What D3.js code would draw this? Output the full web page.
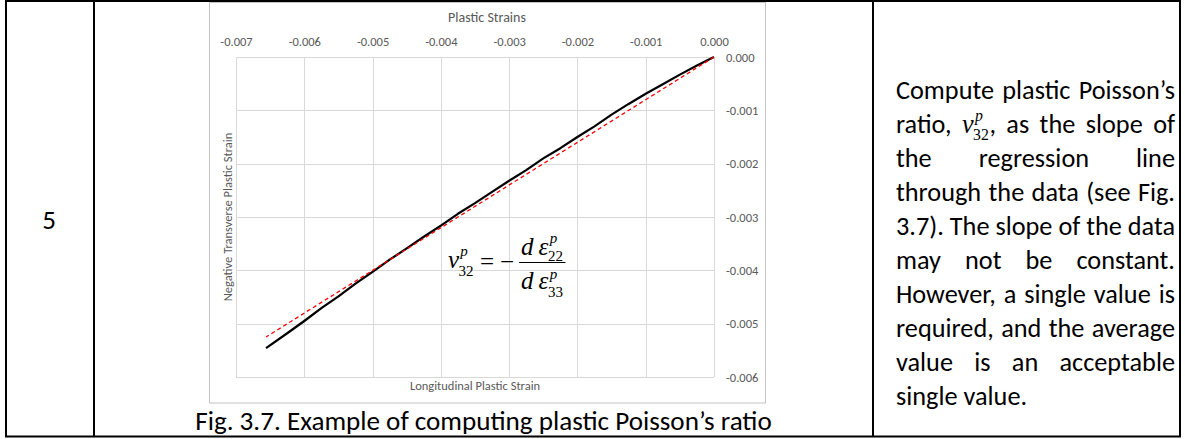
<!DOCTYPE html>
<html>
<head>
<meta charset="utf-8">
<script src="https://cdn.jsdelivr.net/npm/d3@7"></script>
<style>
body { margin: 0; background: #fff; }
svg { display: block; }
</style>
</head>
<body>
<div id="page"></div>
<script>
// data (strain values)
const longStrain = [0, -0.00025, -0.0005, -0.00075, -0.001, -0.00125, -0.0015, -0.00175, -0.002, -0.00225,
    -0.0025, -0.00275, -0.003, -0.00325, -0.0035, -0.00375, -0.004, -0.00425, -0.0045, -0.00475,
    -0.005, -0.00525, -0.0055, -0.00575, -0.006, -0.00625, -0.00656]
const transStrain = [0, -0.00016, -0.00033, -0.00051, -0.00069, -0.00088, -0.00108, -0.0013, -0.0015, -0.00171,
    -0.0019, -0.00212, -0.00232, -0.00253, -0.00274, -0.00294, -0.00316, -0.00337, -0.00359, -0.0038,
    -0.00403, -0.00425, -0.00449, -0.00471, -0.00495, -0.00518, -0.00546]
const regLong = [0, -0.00656]
const regTrans = [0, -0.00525]
const xTicks = [-0.007, -0.006, -0.005, -0.004, -0.003, -0.002, -0.001, 0]
const yTicks = [0, -0.001, -0.002, -0.003, -0.004, -0.005, -0.006]

const rowNumber = '5'
const captionText = 'Fig. 3.7. Example of computing plastic Poisson\u2019s ratio'
const bodyLines = [
    ['Compute', 'plastic', 'Poisson\u2019s'],
    ['ratio,', '{nu}', 'as', 'the', 'slope', 'of'],
    ['the', 'regression', 'line'],
    ['through', 'the', 'data', '(see', 'Fig.'],
    ['3.7).', 'The', 'slope', 'of', 'the', 'data'],
    ['may', 'not', 'be', 'constant.'],
    ['However,', 'a', 'single', 'value', 'is'],
    ['required,', 'and', 'the', 'average'],
    ['value', 'is', 'an', 'acceptable'],
    ['single', 'value.'],
]

const W = 1185, H = 439
const sans = 'Carlito, Calibri, Lato, sans-serif'
const serif = '"Liberation Serif", "Times New Roman", serif'

const svg = d3.select('#page').append('svg')
    .attr('width', W)
    .attr('height', H)

const textWidth = (str, size, family, style = 'normal') => {
    const t = svg.append('text')
        .attr('font-family', family)
        .attr('font-size', size)
        .attr('font-style', style)
        .text(str)
    const w = t.node().getComputedTextLength()
    t.remove()
    return w
}

// table frame
const table = svg.append('g').attr('stroke', '#000').attr('stroke-width', 2)
table.append('rect').attr('x', 6).attr('y', 1).attr('width', 1174).attr('height', 435.5).attr('fill', 'none')
table.append('line').attr('x1', 94).attr('x2', 94).attr('y1', 1).attr('y2', 436.5)
table.append('line').attr('x1', 873).attr('x2', 873).attr('y1', 1).attr('y2', 436.5)

// font size of body text fitted on the caption width
const capSize = 20 * 577 / textWidth(captionText, 20, sans)

svg.append('text')
    .attr('x', 49).attr('y', 229)
    .attr('text-anchor', 'middle')
    .attr('font-family', sans).attr('font-size', capSize)
    .attr('fill', '#000')
    .text(rowNumber)

svg.append('text')
    .attr('x', 483.5).attr('y', 430)
    .attr('text-anchor', 'middle')
    .attr('font-family', sans).attr('font-size', capSize)
    .attr('fill', '#000')
    .text(captionText)

// ---- chart ----
const chart = svg.append('g')
chart.append('rect')
    .attr('x', 209.5).attr('y', 2.5).attr('width', 556).attr('height', 400.5)
    .attr('fill', '#fff').attr('stroke', '#c4c4c4').attr('stroke-width', 1)

const xScale = d3.scaleLinear().domain([-0.007, 0]).range([236, 714])
const yScale = d3.scaleLinear().domain([-0.006, 0]).range([377, 57])
const fmt = (d) => (Math.abs(d) < 1e-12 ? 0 : d).toFixed(3)

chart.append('g')
    .selectAll('line')
    .data(xTicks)
    .join('line')
        .attr('x1', (d) => Math.round(xScale(d)) + 0.5)
        .attr('x2', (d) => Math.round(xScale(d)) + 0.5)
        .attr('y1', yScale(0))
        .attr('y2', yScale(-0.006))
        .attr('stroke', '#d9d9d9')
chart.append('g')
    .selectAll('line')
    .data(yTicks)
    .join('line')
        .attr('x1', xScale(-0.007))
        .attr('x2', xScale(0))
        .attr('y1', (d) => Math.round(yScale(d)) + 0.5)
        .attr('y2', (d) => Math.round(yScale(d)) + 0.5)
        .attr('stroke', '#d9d9d9')

const xAxis = chart.append('g')
    .attr('transform', `translate(0,${yScale(0)})`)
    .call(d3.axisTop(xScale).tickValues(xTicks).tickFormat(fmt).tickSize(0).tickPadding(11))
const yAxis = chart.append('g')
    .attr('transform', `translate(${xScale(0)},0)`)
    .call(d3.axisRight(yScale).tickValues(yTicks).tickFormat(fmt).tickSize(0).tickPadding(12))
;[xAxis, yAxis].forEach((a) => {
    a.select('.domain').remove()
    a.selectAll('text')
        .attr('font-family', sans)
        .attr('font-size', 12.5)
        .attr('fill', '#595959')
})

chart.append('text')
    .attr('x', 487).attr('y', 22)
    .attr('text-anchor', 'middle')
    .attr('font-family', sans).attr('font-size', 14)
    .attr('fill', '#595959')
    .text('Plastic Strains')
chart.append('text')
    .attr('x', 475).attr('y', 390)
    .attr('text-anchor', 'middle')
    .attr('font-family', sans).attr('font-size', 12.5)
    .attr('fill', '#595959')
    .text('Longitudinal Plastic Strain')
chart.append('text')
    .attr('transform', `translate(232,${(yScale(0) + yScale(-0.006)) / 2}) rotate(-90)`)
    .attr('text-anchor', 'middle')
    .attr('font-family', sans).attr('font-size', 12.5)
    .attr('fill', '#595959')
    .text('Negative Transverse Plastic Strain')

const dataLine = d3.line()
    .x((d) => xScale(d[0]))
    .y((d) => yScale(d[1]))

chart.append('path')
    .datum(d3.zip(longStrain, transStrain))
    .attr('d', dataLine)
    .attr('fill', 'none')
    .attr('stroke', '#000')
    .attr('stroke-width', 2.2)
    .attr('stroke-linejoin', 'round')

chart.append('path')
    .datum(d3.zip(regLong, regTrans))
    .attr('d', dataLine)
    .attr('fill', 'none')
    .attr('stroke', '#ff0000')
    .attr('stroke-width', 1.3)
    .attr('stroke-dasharray', '4,3')

// symbol with superscript and subscript, returns end x
const scripted = (g, x, y, base, sup, sub, size, supUp = 0.5, subDown = 0.3) => {
    g.append('text').attr('x', x).attr('y', y)
        .attr('font-family', serif).attr('font-style', 'italic').attr('font-size', size)
        .text(base)
    const bw = textWidth(base, size, serif, 'italic')
    const s = size * 0.6
    g.append('text').attr('x', x + bw + size * 0.05).attr('y', y - size * supUp)
        .attr('font-family', serif).attr('font-style', 'italic').attr('font-size', s)
        .text(sup)
    g.append('text').attr('x', x + bw - size * 0.02).attr('y', y + size * subDown)
        .attr('font-family', serif).attr('font-size', s)
        .text(sub)
    return x + bw + Math.max(textWidth(sup, s, serif, 'italic'), textWidth(sub, s, serif))
}

// formula on the chart
const eq = chart.append('g')
    .attr('transform', `translate(448,262)`)
    .attr('fill', '#000')
const fs = 25
let ex = scripted(eq, 0, 6, '\u03bd', 'p', '32', fs)
eq.append('text').attr('x', ex + 6).attr('y', 8)
    .attr('font-family', serif).attr('font-size', fs).text('=')
eq.append('text').attr('x', ex + 26).attr('y', 8)
    .attr('font-family', serif).attr('font-size', fs).text('\u2212')
const fx = ex + 45
const numEnd = scripted(eq, fx + 2, -7, 'd\u2009\u03b5', 'p', '22', fs, 0.5, 0.22)
scripted(eq, fx + 2, 27, 'd\u2009\u03b5', 'p', '33', fs, 0.42, 0.3)
eq.append('line')
    .attr('x1', fx).attr('x2', numEnd + 2)
    .attr('y1', 0.5).attr('y2', 0.5)
    .attr('stroke', '#000').attr('stroke-width', 1)

// ---- justified text in the right cell ----
const left = 896, right = 1175
const bodySize = Math.min(capSize, capSize * 279 / textWidth(bodyLines[4].join(' '), capSize, sans))
const lineStep = 34
const firstBase = 99
const body = svg.append('g').attr('fill', '#000')
const nuSize = bodySize * 1.0

const tokenWidth = (tok) => {
    if (tok === '{nu}') {
        const s = nuSize * 0.6
        return textWidth('\u03bd', nuSize, serif, 'italic') + Math.max(textWidth('p', s, serif, 'italic'), textWidth('32', s, serif)) + textWidth(',', bodySize, sans)
    }
    return textWidth(tok, bodySize, sans)
}

bodyLines.forEach((words, i) => {
    const y = firstBase + i * lineStep
    const widths = words.map(tokenWidth)
    const last = i === bodyLines.length - 1
    const space = textWidth('a b', bodySize, sans) - textWidth('ab', bodySize, sans)
    const gap = last ? space : (right - left - d3.sum(widths)) / (words.length - 1)
    let cx = left
    words.forEach((w, j) => {
        if (w === '{nu}') {
            const end = scripted(body, cx, y, '\u03bd', 'p', '32', nuSize, 0.45, 0.25)
            body.append('text').attr('x', end).attr('y', y)
                .attr('font-family', sans).attr('font-size', bodySize).text(',')
        } else {
            body.append('text').attr('x', cx).attr('y', y)
                .attr('font-family', sans).attr('font-size', bodySize).text(w)
        }
        cx += widths[j] + gap
    })
})
</script>
</body>
</html>
